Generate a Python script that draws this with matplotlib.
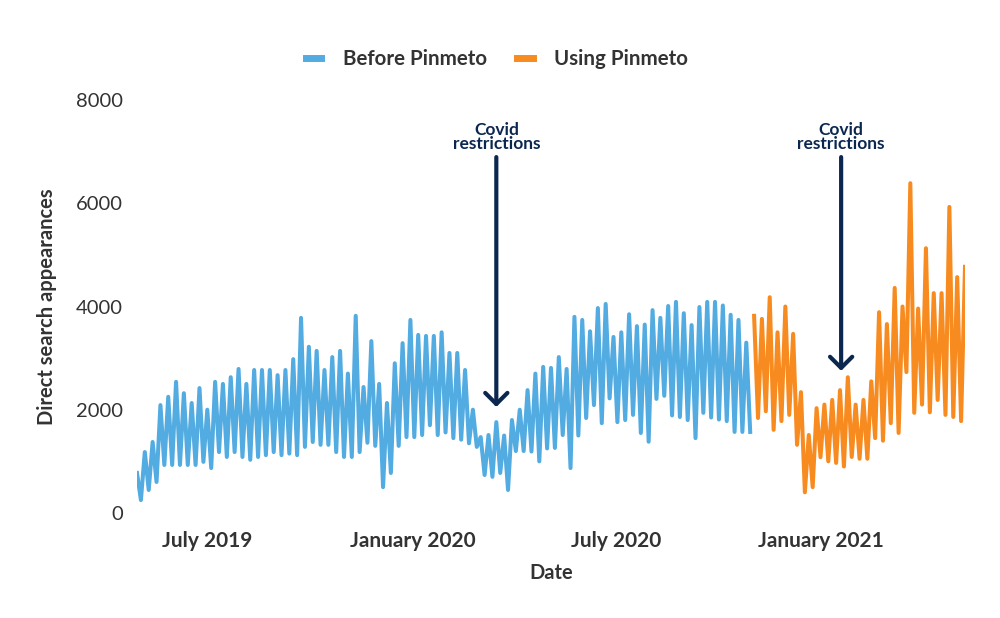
import matplotlib
matplotlib.use('Agg')
import matplotlib.pyplot as plt
import pandas as pd

plt.rcParams['font.family'] = ['Lato', 'DejaVu Sans']

# weekly peaks (weekday) and troughs (weekend)
before_high = [775, 1180, 1375, 2090, 2250, 2540, 2320, 2130, 2420, 2000,
               2540, 2500, 2630, 2790, 2500, 2770, 2770, 2770, 2670, 2770,
               2980, 3780, 3220, 3140, 2770, 3020, 3140, 2700, 3820, 2440,
               3330, 2500, 2130, 2900, 3290, 3740, 3450, 3430, 3430, 3500,
               3100, 3100, 2770, 2000, 1470, 1510, 1760, 1500, 1800, 2000,
               2380, 2700, 2830, 2810, 3020, 2790, 3800, 3740, 3520, 3970,
               4050, 3410, 3500, 3850, 3620, 3650, 3930, 3780, 4010, 4090,
               3870, 3640, 3990, 4090, 4090, 4020, 3840, 3740, 3300]
before_low = [250, 445, 600, 930, 930, 930, 930, 930, 990, 870,
              1180, 1085, 1180, 1085, 1030, 1085, 1120, 1180, 1120, 1150,
              1120, 1280, 1375, 1320, 1320, 1180, 1085, 1085, 1180, 1360,
              1300, 500, 775, 1300, 1470, 1470, 1510, 1700, 1510, 1560,
              1450, 1420, 1350, 1280, 735, 700, 775, 445, 1200, 1200,
              1190, 1000, 1250, 1260, 1510, 870, 1500, 1840, 2090, 1740,
              2220, 1760, 1800, 1900, 1550, 1380, 2210, 2270, 1890, 1860,
              1800, 1450, 1940, 1850, 1810, 1780, 1570, 1570, 1570]
using_high = [3820, 3760, 4180, 3500, 4000, 3470, 2340, 1510, 2030, 2100,
              2190, 2380, 2630, 2100, 2190, 2550, 3890, 3660, 4360, 4000,
              6390, 3960, 5130, 4260, 4260, 5930, 4570, 4770]
using_low = [1840, 1970, 1610, 1780, 1900, 1320, 400, 500, 1080, 1000,
             970, 900, 1085, 1050, 1050, 1450, 1400, 1740, 1550, 2730,
             1940, 2100, 1950, 2190, 1900, 1860, 1780]

start_date = '2019-04-29'
covid_dates = ['2020-03-16', '2021-01-19']
covid_tips = [2000, 2700]

tick_dates = ['2019-07-01', '2020-01-01', '2020-07-01', '2021-01-01']
tick_labels = ['July 2019', 'January 2020', 'July 2020', 'January 2021']

BLUE = '#52abe1'
ORANGE = '#f78b1f'
NAVY = '#0b2750'
TEXT = '#333333'


def interleave(highs, lows):
    out = []
    for i in range(len(highs)):
        out.append(highs[i])
        if i < len(lows):
            out.append(lows[i])
    return out


before = interleave(before_high, before_low)
using = interleave(using_high, using_low)
step = pd.Timedelta(hours=84)
before_x = pd.date_range(start_date, periods=len(before), freq=step)
using_x = pd.date_range(before_x[-1] + step, periods=len(using), freq=step)

fig = plt.figure(figsize=(10, 6.18), dpi=100)
ax = fig.add_axes([0.137, 0.17, 0.828, 0.668])

ax.plot(before_x, before, color=BLUE, lw=2.9, label='Before Pinmeto')
ax.plot(using_x, using, color=ORANGE, lw=2.9, label='Using Pinmeto')

for d, tip in zip(covid_dates, covid_tips):
    ax.annotate('', xy=(pd.Timestamp(d), tip), xytext=(pd.Timestamp(d), 6950),
                arrowprops=dict(arrowstyle='->,head_length=0.8,head_width=0.8',
                                color=NAVY, lw=3))
    ax.text(pd.Timestamp(d), 7290, 'Covid\nrestrictions', ha='center',
            va='center', fontsize=12.5, fontweight='bold', color=NAVY,
            linespacing=0.85)

ax.set_xlim(before_x[0], using_x[-1])
ax.set_ylim(0, 8000)
ax.set_yticks([0, 2000, 4000, 6000, 8000])
ax.set_xticks([pd.Timestamp(t) for t in tick_dates])
ax.set_xticklabels(tick_labels, fontweight='bold')
ax.tick_params(axis='both', length=0, labelsize=15, labelcolor=TEXT)
ax.tick_params(axis='y', labelsize=14.5, pad=10)
ax.tick_params(axis='x', pad=13)
for s in ax.spines.values():
    s.set_visible(False)

ax.set_xlabel('Date', fontsize=14.5, fontweight='bold', color=TEXT, labelpad=9)
ax.set_ylabel('Direct search appearances', fontsize=14.5, fontweight='bold',
              color=TEXT, labelpad=14)

leg = fig.legend(loc='center', bbox_to_anchor=(0.497, 0.905), ncol=2,
                 frameon=False, fontsize=14.8, handlelength=0.75,
                 columnspacing=1.5, handletextpad=1.05)
for t in leg.get_texts():
    t.set_fontweight('bold')
    t.set_color(TEXT)
for h in leg.get_lines():
    h.set_linewidth(5)

fig.savefig('out.png', dpi=100)
